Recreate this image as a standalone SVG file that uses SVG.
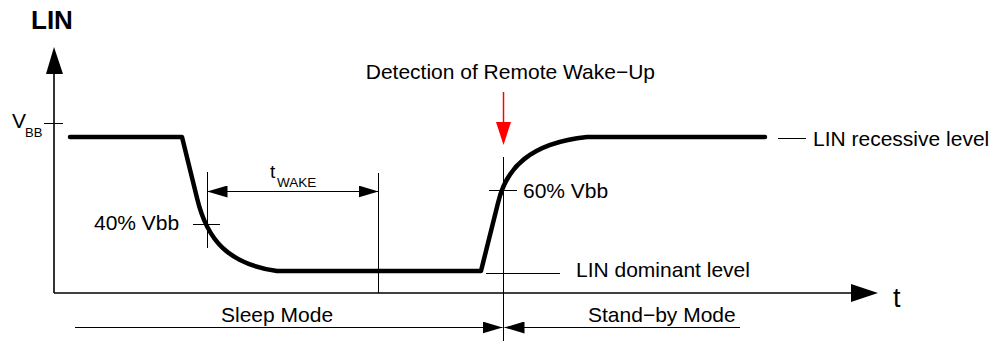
<svg xmlns="http://www.w3.org/2000/svg" width="997" height="341" viewBox="0 0 997 341">
<style>
text{font-family:"Liberation Sans",Arial,sans-serif;fill:#000}
.lbl{font-size:21px}
.sub{font-size:13px}
.thin{stroke:#000;stroke-width:1;fill:none}
.axis{stroke:#000;stroke-width:1.6;fill:none}
.sig{stroke:#000;stroke-width:4.5;fill:none;stroke-linejoin:round;stroke-linecap:round}
</style>
<defs>
<marker id="ah" viewBox="0 0 20 12" refX="20" refY="6" markerWidth="20" markerHeight="12" markerUnits="userSpaceOnUse" orient="auto-start-reverse">
<path d="M0,0 L20,6 L0,12 Z" fill="#000"/>
</marker>
</defs>
<rect width="997" height="341" fill="#fff"/>
<g id="axes">
<line class="axis" x1="54" y1="293" x2="54" y2="72"/>
<polygon points="54,47 46,74 63,74" fill="#000"/>
<line class="axis" x1="54" y1="293" x2="853" y2="293"/>
<polygon points="878,293 851,284 851,302" fill="#000"/>
<text x="31" y="29" style="font-size:26px;font-weight:bold">LIN</text>
<text x="893" y="307" style="font-size:27px">t</text>
<line class="thin" x1="44" y1="123.5" x2="63" y2="123.5"/>
<text x="12" y="128" class="lbl">V</text>
<text x="25" y="137" class="sub">BB</text>
</g>
<g id="signal">
<path class="sig" d="M70,137 L182,137 L197,198 C207,240 228,264 277,271 L481,271 L498,203 C506,168 530,143 587,137 L765,137"/>
</g>
<g id="connectors">
<line class="thin" x1="207.5" y1="172" x2="207.5" y2="248"/>
<line class="thin" x1="378.5" y1="173" x2="378.5" y2="293"/>
<line class="thin" x1="207.5" y1="191.5" x2="378.5" y2="191.5" marker-start="url(#ah)" marker-end="url(#ah)"/>
<line class="thin" x1="193" y1="224.5" x2="220" y2="224.5"/>
<line class="thin" x1="503.5" y1="157" x2="503.5" y2="341"/>
<line class="thin" x1="489" y1="190.5" x2="517" y2="190.5"/>
<line class="thin" x1="486" y1="273.5" x2="560" y2="273.5"/>
<line class="thin" x1="778" y1="138.5" x2="806" y2="138.5"/>
<line style="stroke:#f00;stroke-width:1.5" x1="503.5" y1="92" x2="503.5" y2="124"/>
<polygon points="503.5,145 496,122 511,122" fill="#f00"/>
<line class="thin" x1="75" y1="327.5" x2="502.5" y2="327.5" marker-end="url(#ah)"/>
<line class="thin" x1="740" y1="327.5" x2="504.5" y2="327.5" marker-end="url(#ah)"/>
</g>
<g id="labels">
<text x="270" y="178" style="font-size:19px">t</text>
<text x="277" y="187" style="font-size:13.5px">WAKE</text>
<text x="94" y="230" class="lbl">40% Vbb</text>
<text x="523" y="198" class="lbl">60% Vbb</text>
<text x="655" y="79" class="lbl" text-anchor="end">Detection of Remote Wake−Up</text>
<text x="813" y="146" class="lbl">LIN recessive level</text>
<text x="576" y="277" class="lbl">LIN dominant level</text>
<text x="221" y="322" class="lbl">Sleep Mode</text>
<text x="588" y="322" class="lbl">Stand−by Mode</text>
</g>
</svg>
